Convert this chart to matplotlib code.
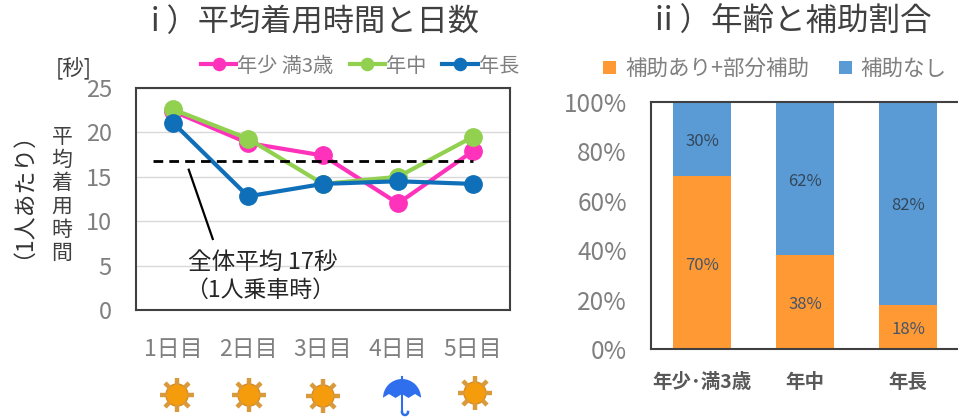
import matplotlib
matplotlib.use('Agg')
import matplotlib.pyplot as plt
from matplotlib.patches import Circle, Wedge, Polygon
import numpy as np

plt.rcParams['font.family'] = ['Noto Sans CJK JP', 'DejaVu Sans']

W, H = 958, 419

days = ['1日目', '2日目', '3日目', '4日目', '5日目']
nensho = [22.4, 18.8, 17.4, 12.0, 17.9]
nenchu = [22.6, 19.3, 14.2, 15.0, 19.5]
nencho = [21.1, 12.8, 14.2, 14.5, 14.2]
overall_avg = 16.8
yticks_left = [0, 5, 10, 15, 20, 25]

ages = ['年少･満3歳', '年中', '年長']
with_help = [70, 38, 18]
no_help = [30, 62, 82]
yticks_right = [0, 20, 40, 60, 80, 100]

weather = ['sun', 'sun', 'sun', 'rain', 'sun']

GRAY = '#7f7f7f'
DARK = '#404040'


def px_axes(fig, left, top, right, bottom):
    return fig.add_axes([left / W, 1 - bottom / H, (right - left) / W, (bottom - top) / H])


def draw_sun(ax, x, y):
    # rays first, then the disc on top
    for ang in np.arange(0, 360, 45):
        a = np.radians(ang)
        ax.plot([x + 10 * np.cos(a), x + 17 * np.cos(a)], [y + 10 * np.sin(a), y + 17 * np.sin(a)],
                color='#d99a3c', lw=3.2, solid_capstyle='butt')
    ax.add_patch(Circle((x, y), 11, fc='#f59c0c', ec='#d98a1c', lw=1))


def draw_umbrella(ax, x, y):
    ax.add_patch(Wedge((x, y + 3), 19, 180, 360, fc='#2f6fee', ec='none'))
    for dx in (-13, 0, 13):
        ax.add_patch(Polygon([(x + dx - 6.5, y + 3), (x + dx + 6.5, y + 3), (x + dx, y - 1)], fc='white', ec='none'))
    ax.plot([x, x], [y - 18, y + 17], color='#2f6fee', lw=1.5)
    t = np.linspace(0, np.pi, 20)
    ax.plot(x + 3 - 3 * np.cos(t), y + 17 + 3 * np.sin(t), color='#2f6fee', lw=1.8)


fig = plt.figure(figsize=(W / 100, H / 100), dpi=100, facecolor='white')

# i) line chart
ax1 = px_axes(fig, 135.5, 88, 510.5, 310)
x = np.arange(len(days))
series = [(nensho, '#ff33bb', '年少 満3歳'), (nenchu, '#92d050', '年中'), (nencho, '#0f6fb8', '年長')]
for vals, col, lab in series:
    ax1.plot(x, vals, color=col, lw=3, marker='o', ms=12.5, label=lab)
ax1.plot([-0.27, 4.0], [overall_avg, overall_avg], color='black', lw=2, ls=(0, (3.5, 2.2)))
ax1.plot([0.21, 0.53], [15.8, 8.0], color='black', lw=1.6)
ax1.set_xlim(-0.5, 4.5)
ax1.set_ylim(0, 25)
ax1.set_xticks(x, days)
ax1.set_yticks(yticks_left)
ax1.tick_params(axis='x', length=0, pad=20, labelsize=16.5, labelcolor=GRAY)
ax1.tick_params(axis='y', length=0, pad=17, labelsize=17, labelcolor=GRAY)
ax1.grid(axis='y', color='#d9d9d9', lw=1)
ax1.set_axisbelow(True)
for s in ax1.spines.values():
    s.set_color(DARK)
    s.set_linewidth(1.5)
ax1.text(1.2, 5.4, '全体平均 17秒', fontsize=17, color='#262626', ha='center', va='center')
ax1.text(1.16, 2.25, '（1人乗車時）', fontsize=16.5, color='#262626', ha='center', va='center')

# ii) stacked bars
ax2 = px_axes(fig, 650.5, 102, 959.5, 349)
xb = np.arange(len(ages))
ax2.bar(xb, with_help, width=0.57, color='#ff9933', label='補助あり+部分補助')
ax2.bar(xb, no_help, width=0.57, bottom=with_help, color='#5b9bd5', label='補助なし')
for i in xb:
    ax2.text(i, with_help[i] / 2 - 1, f'{with_help[i]}%', ha='center', va='center', fontsize=12, color='#44546a')
    ax2.text(i, with_help[i] + no_help[i] / 2 - 1, f'{no_help[i]}%', ha='center', va='center', fontsize=12, color='#33475b')
ax2.set_xlim(-0.5, 2.5)
ax2.set_ylim(0, 100)
ax2.set_xticks(xb, ages)
ax2.set_yticks(yticks_right, [f'{v}%' for v in yticks_right])
ax2.tick_params(axis='x', length=0, pad=17, labelsize=14, labelcolor='#595959')
for lab in ax2.get_xticklabels():
    lab.set_fontweight('bold')
ax2.tick_params(axis='y', length=0, pad=17, labelsize=17.5, labelcolor=GRAY)
for s in ax2.spines.values():
    s.set_color(DARK)
    s.set_linewidth(1.5)

# overlay in pixel coordinates for titles, side labels and icons
ov = fig.add_axes([0, 0, 1, 1], facecolor='none')
ov.set_xlim(0, W)
ov.set_ylim(H, 0)
ov.axis('off')
ov.text(315, 22, 'i ）平均着用時間と日数', fontsize=22.5, color='#404040', ha='center', va='center')
ov.text(793, 22, 'ii ）年齢と補助割合', fontsize=22.7, color='#404040', ha='center', va='center')
ov.text(74, 68, '[秒]', fontsize=15.5, color='#404040', ha='center', va='center')
for i, ch in enumerate('平均着用時間'):
    ov.text(62, 137 + i * 23.2, ch, fontsize=15, color='#404040', ha='center', va='center')
ov.text(11, 184, '（1人あたり）', fontsize=16.5, color='#333333', rotation=90, ha='center', va='center')

icon_x = [177, 249, 323, 402, 475]
icon_y = [395, 395, 396, 395, 393]
for kind, ix, iy in zip(weather, icon_x, icon_y):
    if kind == 'sun':
        draw_sun(ov, ix, iy)
    else:
        draw_umbrella(ov, ix, iy)

h1, l1 = ax1.get_legend_handles_labels()
fig.legend(h1, l1, loc='center', bbox_to_anchor=(360 / W, 1 - 66 / H), ncol=3, frameon=False, fontsize=14.5,
           labelcolor=GRAY, handlelength=1.75, handletextpad=0.05, columnspacing=0.8, markerscale=0.7)
h2, l2 = ax2.get_legend_handles_labels()
fig.legend(h2, l2, loc='center', bbox_to_anchor=(775 / W, 1 - 69 / H), ncol=2, frameon=False, fontsize=15.5,
           labelcolor=GRAY, handlelength=0.6, handleheight=0.6, handletextpad=0.4, columnspacing=1.4)

fig.savefig('out.png', dpi=100)
